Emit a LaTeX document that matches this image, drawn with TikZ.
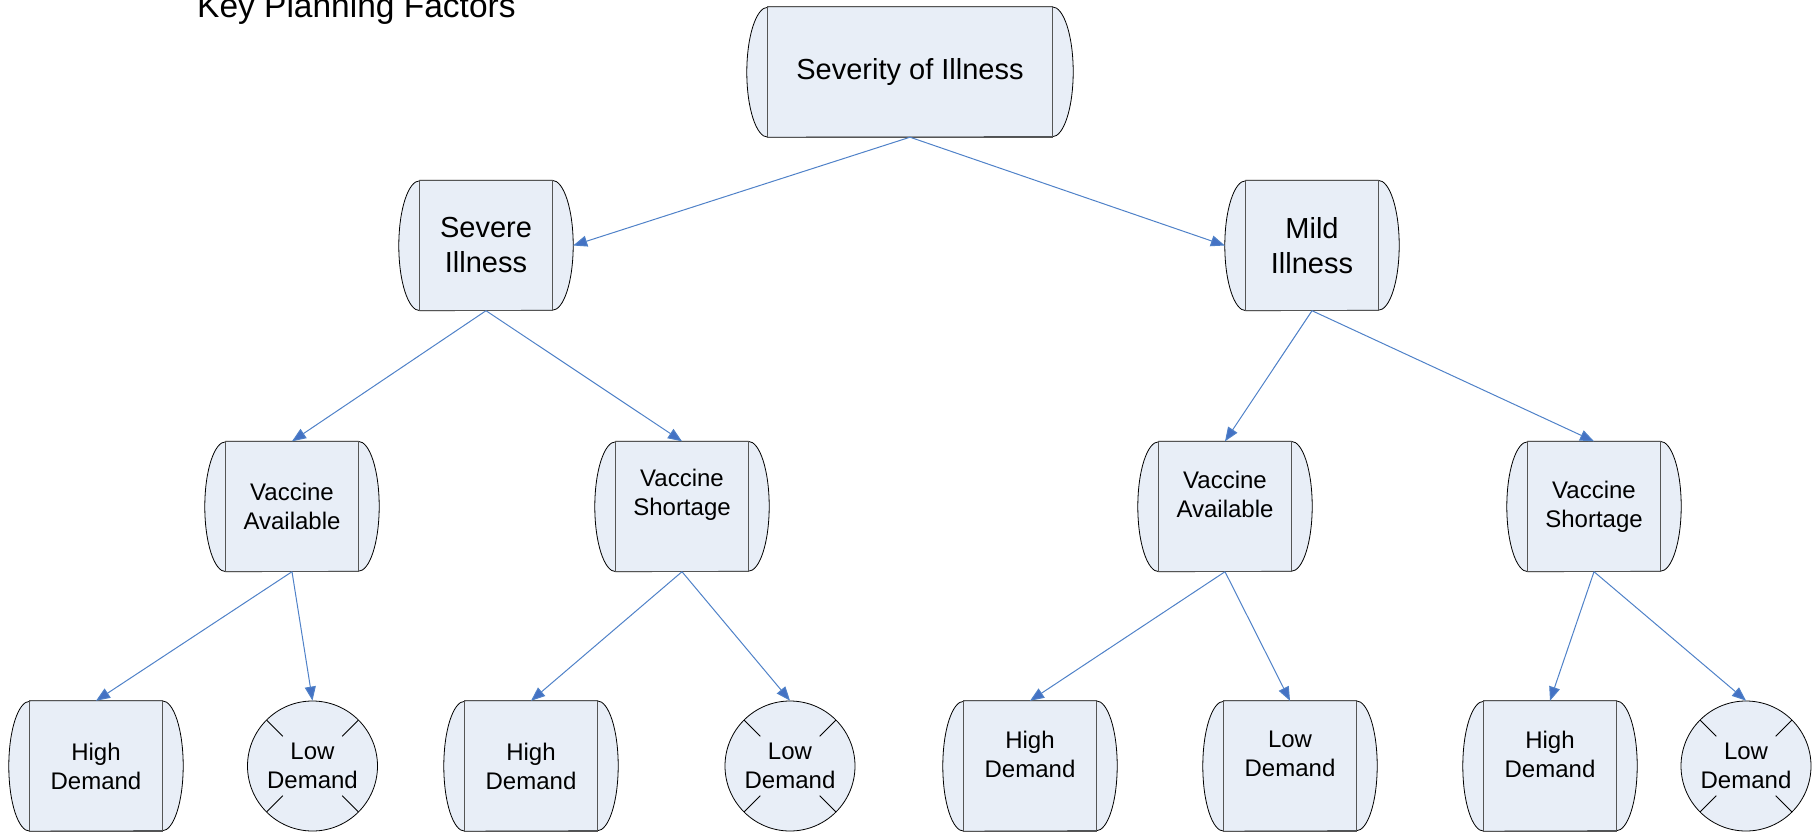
\documentclass[tikz,border=0pt]{standalone}
\usepackage{fontspec}
\setmainfont{Liberation Sans}
\usetikzlibrary{arrows.meta}
\definecolor{nfill}{RGB}{232,238,247}
\definecolor{edgeblue}{RGB}{79,129,200}
\definecolor{tipblue}{RGB}{68,114,196}
\definecolor{rimgray}{RGB}{85,85,85}
\tikzset{
  bx/.style={rectangle, minimum width=174pt, minimum height=130pt, inner sep=0pt, draw=none},
  bigbx/.style={bx, minimum width=326pt},
  circ/.style={circle, minimum size=130pt, inner sep=0pt, draw=black, line width=0.8pt, fill=nfill},
  bigtxt/.style={align=center, font=\fontsize{29}{35}\selectfont, inner sep=0pt},
  smtxt/.style={align=center, font=\fontsize{24}{29}\selectfont, inner sep=0pt},
  titletxt/.style={font=\fontsize{33.5}{40}\selectfont, inner sep=0pt, anchor=base west},
  arr/.style={draw=edgeblue, line width=1pt, -{Triangle[length=14pt,width=11pt,fill=tipblue]}},
}
\newcommand\drumshape[1]{%
  \path[fill=nfill, draw=black, line width=0.8pt] ([xshift=21pt]#1.north west) -- ([xshift=-21pt]#1.north east)
     arc[start angle=90,end angle=-90,x radius=21pt,y radius=65pt] -- ([xshift=21pt]#1.south west)
     arc[start angle=270,end angle=90,x radius=21pt,y radius=65pt] -- cycle;
  \draw[rimgray, line width=1.3pt] ([xshift=21pt]#1.north west) rectangle ([xshift=-21pt]#1.south east);
}
\newcommand\tickcircle[1]{%
  \foreach \a in {45,135,225,315}{\draw[black, line width=0.8pt] (#1.center) ++(\a:42pt) -- ++(\a:23pt);}%
}
\begin{document}
\begin{tikzpicture}[x=1pt,y=-1pt]
\useasboundingbox (0,0) rectangle (1820,833);
\node[titletxt] (title) at (197,17) {Key Planning Factors};
% shapes
\node[bigbx] (top) at (910,72) {}; \drumshape{top}
\node[bx] (sev) at (486,245.5) {}; \drumshape{sev}
\node[bx] (mild) at (1312,245.5) {}; \drumshape{mild}
\node[bx] (va1) at (292,506.5) {}; \drumshape{va1}
\node[bx] (vs1) at (682,506.5) {}; \drumshape{vs1}
\node[bx] (va2) at (1225,506.5) {}; \drumshape{va2}
\node[bx] (vs2) at (1594,506.5) {}; \drumshape{vs2}
\node[bx] (hd1) at (96,766) {}; \drumshape{hd1}
\node[circ] (ld1) at (312.5,766) {}; \tickcircle{ld1}
\node[bx] (hd2) at (531,766) {}; \drumshape{hd2}
\node[circ] (ld2) at (790,766) {}; \tickcircle{ld2}
\node[bx] (hd3) at (1030,766) {}; \drumshape{hd3}
\node[bx] (ld3) at (1290,766) {}; \drumshape{ld3}
\node[bx] (hd4) at (1550,766) {}; \drumshape{hd4}
\node[circ] (ld4) at (1746,766) {}; \tickcircle{ld4}
% texts
\node[bigtxt] (topt) at (top.center) {Severity of Illness};
\node[bigtxt] (sevt) at (sev.center) {Severe\\Illness};
\node[bigtxt] (mildt) at (mild.center) {Mild\\Illness};
\node[smtxt] (va1t) at (va1.center) {Vaccine\\Available};
\node[smtxt] (vs1t) at ([yshift=12pt]vs1.center) {Vaccine\\Shortage};
\node[smtxt] (va2t) at ([yshift=12pt]va2.center) {Vaccine\\Available};
\node[smtxt] (vs2t) at (vs2.center) {Vaccine\\Shortage};
\node[smtxt] (hd1t) at (hd1.center) {High\\Demand};
\node[smtxt] (ld1t) at (ld1.center) {Low\\Demand};
\node[smtxt] (hd2t) at (hd2.center) {High\\Demand};
\node[smtxt] (ld2t) at (ld2.center) {Low\\Demand};
\node[smtxt] (hd3t) at ([yshift=12pt]hd3.center) {High\\Demand};
\node[smtxt] (ld3t) at ([yshift=12pt]ld3.center) {Low\\Demand};
\node[smtxt] (hd4t) at ([yshift=12pt]hd4.center) {High\\Demand};
\node[smtxt] (ld4t) at (ld4.center) {Low\\Demand};
% connectors
\draw[arr] (top.south) -- (sev.east);
\draw[arr] (top.south) -- (mild.west);
\draw[arr] (sev.south) -- (va1.north);
\draw[arr] (sev.south) -- (vs1.north);
\draw[arr] (mild.south) -- (va2.north);
\draw[arr] (mild.south) -- (vs2.north);
\draw[arr] (va1.south) -- (hd1.north);
\draw[arr] (va1.south) -- (ld1.north);
\draw[arr] (vs1.south) -- (hd2.north);
\draw[arr] (vs1.south) -- (ld2.north);
\draw[arr] (va2.south) -- (hd3.north);
\draw[arr] (va2.south) -- (ld3.north);
\draw[arr] (vs2.south) -- (hd4.north);
\draw[arr] (vs2.south) -- (ld4.north);
\end{tikzpicture}
\end{document}
